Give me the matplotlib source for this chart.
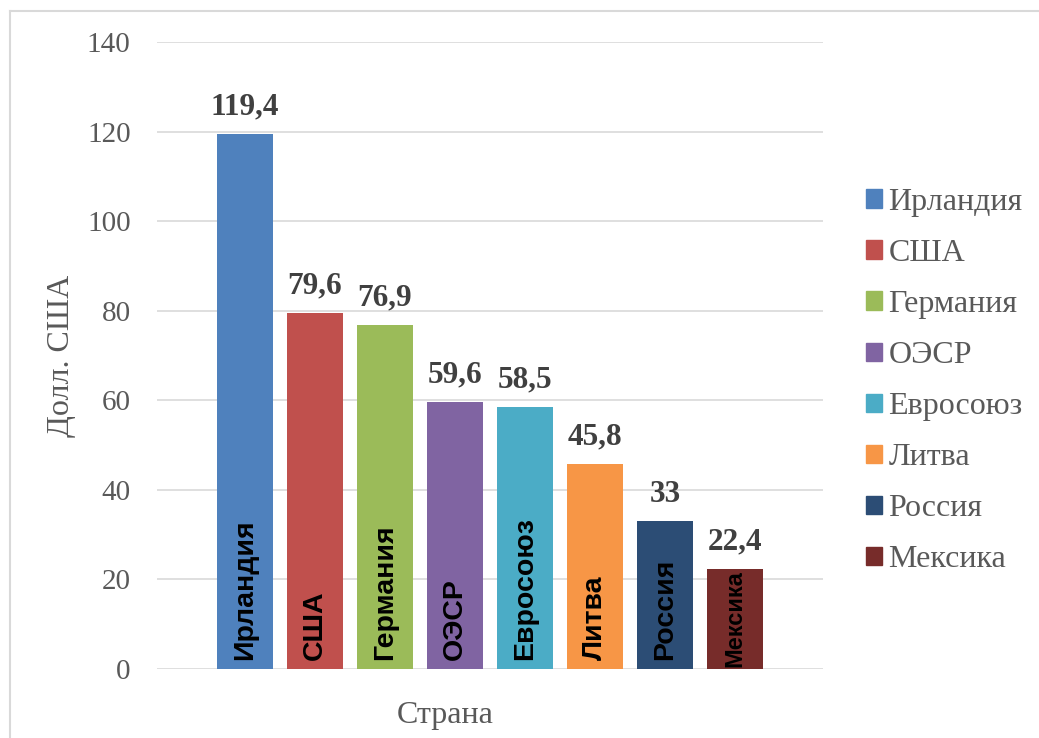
import matplotlib
matplotlib.use('Agg')
import matplotlib.pyplot as plt
from matplotlib.lines import Line2D
import numpy as np

countries = ['Ирландия', 'США', 'Германия', 'ОЭСР', 'Евросоюз', 'Литва', 'Россия', 'Мексика']
values = [119.4, 79.6, 76.9, 59.6, 58.5, 45.8, 33, 22.4]
value_labels = ['119,4', '79,6', '76,9', '59,6', '58,5', '45,8', '33', '22,4']
colors = ['#4F81BD', '#C0504D', '#9BBB59', '#8064A2',
          '#4BACC6', '#F79646', '#2C4D75', '#772C2A']
yticks = [0, 20, 40, 60, 80, 100, 120, 140]

serif = 'Liberation Serif'
sans = 'Liberation Sans'
gray = '#595959'

W, H = 1039, 738
fig = plt.figure(figsize=(W / 100, H / 100), dpi=100)
# plot area in pixels: x 157..823, y 42..669
ax = fig.add_axes([157 / W, 1 - 669 / H, (823 - 157) / W, (669 - 42) / H])

x = np.arange(len(countries))
bars = ax.bar(x, values, width=0.8, color=colors, zorder=3)

ax.set_ylim(0, 140)
ax.set_xlim(-1.257, 8.257)
ax.set_yticks(yticks)
ax.set_yticklabels([str(t) for t in yticks], fontfamily=serif, fontsize=21, color=gray)
ax.set_xticks([])
ax.tick_params(axis='y', length=0, pad=19)
ax.grid(axis='y', color='#d9d9d9', linewidth=1.2, zorder=0)
for s in ax.spines.values():
    s.set_visible(False)

# value labels above bars
for xi, v, lab in zip(x, values, value_labels):
    ax.annotate(lab, (xi, v), xytext=(0, 9), textcoords='offset points',
                ha='center', va='bottom', fontfamily=serif, fontweight='bold',
                fontsize=22.5, color='#404040')

# names inside bars
for xi, name in zip(x, countries):
    fs = 17 if name == 'Мексика' else 20.5
    y0 = 0.5 if name == 'Мексика' else 2
    ax.text(xi, y0, name, rotation=90, ha='center', va='bottom',
            fontfamily=sans, fontweight='bold', fontsize=fs, color='black', zorder=4)

ax.set_ylabel('Долл. США', fontfamily=serif, fontsize=23, color=gray)
ax.yaxis.set_label_coords((76 - 157) / (823 - 157), 0.5)
ax.set_xlabel('Страна', fontfamily=serif, fontsize=23, color=gray)
ax.xaxis.set_label_coords((445 - 157) / (823 - 157), (669 - 715) / (669 - 42))
ax.xaxis.label.set_va('center')

handles = [plt.Rectangle((0, 0), 1, 1, color=c) for c in colors]
leg = fig.legend(handles, countries, loc='center left',
                 bbox_to_anchor=(866 / W, 1 - 381 / H), frameon=False,
                 prop={'family': serif, 'size': 23}, handlelength=0.5,
                 handleheight=0.5, handletextpad=0.2, labelspacing=0.69,
                 borderpad=0, borderaxespad=0)
for t in leg.get_texts():
    t.set_color(gray)

# outer chart border
fig.add_artist(Line2D([10 / W, 1], [1 - 11 / H, 1 - 11 / H], color='#d9d9d9', lw=1.5))
fig.add_artist(Line2D([10 / W, 10 / W], [0, 1 - 11 / H], color='#d9d9d9', lw=1.5))

fig.savefig('out.png', dpi=100)
